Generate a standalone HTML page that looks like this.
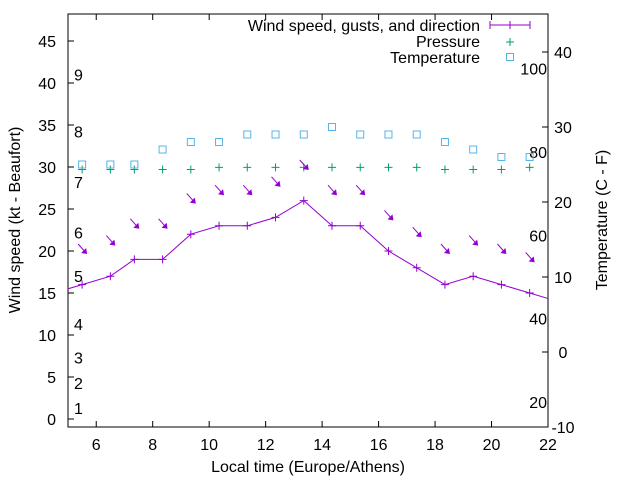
<!DOCTYPE html>
<html><head><meta charset="utf-8"><style>
body{margin:0;background:#fff}
svg{display:block;font-family:"Liberation Sans",sans-serif}
</style></head><body>
<svg id="chart" width="640" height="480" viewBox="0 0 640 480" xmlns="http://www.w3.org/2000/svg">
<defs><clipPath id="plotclip"><rect x="68" y="14" width="480" height="413"/></clipPath></defs>
<g id="axes"></g>
<g id="series" clip-path="url(#plotclip)"></g>
<g id="legend"></g>
</svg>
<script>
const hours = [5.5,6.5,7.35,8.35,9.35,10.35,11.35,12.35,13.35,14.35,15.35,16.35,17.35,18.35,19.35,20.35,21.35];
const windSpeed = [16,17,19,19,22,23,23,24,26,23,23,20,18,16,17,16,15];
const gusts = [20,21,23,23,26,27,27,28,30,27,27,24,22,20,21,20,19];
const pressure = [29.7,29.7,29.7,29.7,29.7,29.95,29.95,29.95,29.95,29.95,29.95,29.95,29.95,29.7,29.7,29.7,29.95];
const temperature = [25,25,25,27,28,28,29,29,29,30,29,29,29,28,27,26,26];
const xTicks = [6,8,10,12,14,16,18,20,22];
const yTicks = [0,5,10,15,20,25,30,35,40,45];
const tempTicks = [-10,0,10,20,30,40];
const fTicks = [20,40,60,80,100];
const beaufortLabels = ['1','2','3','4','5','6','7','8','9'];
const beaufortKt = [1.3,4.3,7.3,11.3,17,22.2,28.2,34.2,41];

const L=68,R=548,T=14,B=427,FS=16;
const xS=h=>L+(h-5)*(R-L)/17;
const yS=v=>419-v*8.4;
const tS=t=>B-(t+10)*7.5;
const NS='http://www.w3.org/2000/svg';
function mk(tag,attrs,parent,text){const e=document.createElementNS(NS,tag);for(const k in attrs)e.setAttribute(k,attrs[k]);if(text!==undefined)e.textContent=text;parent.appendChild(e);return e;}
const ax=document.getElementById('axes'),se=document.getElementById('series'),lg=document.getElementById('legend');

let fr=mk('rect',{x:L,y:T,width:R-L,height:B-T,fill:'none',stroke:'#000','stroke-width':1},ax);


xTicks.forEach(t=>{
  const x=xS(t);
  let a=mk('line',{x1:x,y1:B,x2:x,y2:B-6,stroke:'#000'},ax);
  
  
  let b=mk('line',{x1:x,y1:T,x2:x,y2:T+6,stroke:'#000'},ax);
  
  
  let tx=mk('text',{x:x,y:B+23,'text-anchor':'middle','font-size':FS},ax,String(t));
  
  
});
yTicks.forEach(t=>{
  const y=yS(t);
  let a=mk('line',{x1:L,y1:y,x2:L+6,y2:y,stroke:'#000'},ax);
  
  
  let tx=mk('text',{x:56,y:y+6,'text-anchor':'end','font-size':FS},ax,String(t));
  
  
});
tempTicks.forEach(t=>{
  const y=tS(t);
  let a=mk('line',{x1:R,y1:y,x2:R-6,y2:y,stroke:'#000'},ax);
  
  
  let tx=mk('text',{x:563,y:y+6,'text-anchor':'middle','font-size':FS},ax,String(t));
  
  
});
fTicks.forEach(f=>{
  const c=(f-32)*5/9;
  let tx=mk('text',{x:547,y:tS(c)+6,'text-anchor':'end','font-size':FS},ax,String(f));
  
  
});
beaufortLabels.forEach((s,i)=>{
  let tx=mk('text',{x:74,y:yS(beaufortKt[i])+6,'font-size':FS},ax,s);
  
  
});
let xt=mk('text',{x:308,y:472,'text-anchor':'middle','font-size':FS},ax,'Local time (Europe/Athens)');


let yt=mk('text',{x:0,y:0,'text-anchor':'middle','font-size':FS,transform:'translate(20,220) rotate(-90)'},ax,'Wind speed (kt - Beaufort)');


let y2t=mk('text',{x:0,y:0,'text-anchor':'middle','font-size':FS,transform:'translate(607,220) rotate(-90)'},ax,'Temperature (C - F)');



const P='#9400d3',G='#009e73',Bl='#56b4e9';
const pts=[[4.5,15]].concat(hours.map((h,i)=>[h,windSpeed[i]])).concat([[22.35,14]]);
let pl=mk('polyline',{points:pts.map(p=>xS(p[0])+','+yS(p[1])).join(' '),fill:'none',stroke:P,'stroke-width':1},se);


function plus(x,y,c,parent,name){
  const g=mk('path',{d:`M${x-4},${y}H${x+4}M${x},${y-4}V${y+4}`,stroke:c,'stroke-width':1,fill:'none'},parent);
  
  
}
hours.forEach((h,i)=>plus(xS(h),yS(windSpeed[i]),P,se,'wind-point'));
hours.forEach((h,i)=>plus(xS(h),yS(pressure[i]),G,se,'pressure-point'));
hours.forEach((h,i)=>{
  let r=mk('rect',{x:xS(h)-3.5,y:tS(temperature[i])-3.5,width:7,height:7,fill:'none',stroke:Bl,'stroke-width':1},se);
  
  
});
hours.forEach((h,i)=>{
  const cx=xS(h),cy=yS(gusts[i])-2;
  const g=mk('g',{},se);
  
  
  mk('line',{x1:cx-4,y1:cy-5,x2:cx+4,y2:cy+4,stroke:P,'stroke-width':1},g);
  mk('polygon',{points:`${cx+5},${cy+5} ${cx-1},${cy+4} ${cx+4},${cy-1}`,fill:P},g);
});
const lt=[['Wind speed, gusts, and direction',25],['Pressure',41],['Temperature',57]];
lt.forEach(l=>{
  let tx=mk('text',{x:480,y:l[1]+6,'text-anchor':'end','font-size':FS},lg,l[0]);
  
  
});
let ls=mk('path',{d:'M490,25H530M490,21V29M530,21V29',stroke:P,fill:'none'},lg);


plus(510,25,P,lg,'legend-wind-marker');
plus(510,42,G,lg,'legend-pressure-marker');
let lr=mk('rect',{x:506.5,y:53.5,width:7,height:7,fill:'none',stroke:Bl},lg);


</script>
</body></html>
